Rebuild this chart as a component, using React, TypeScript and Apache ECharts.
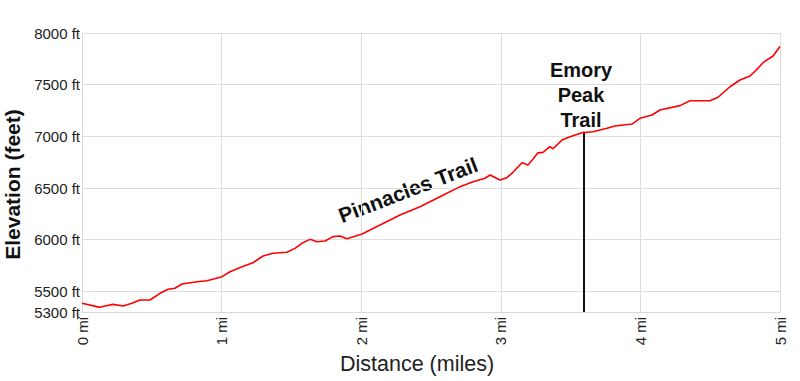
import React, { useEffect, useRef } from "react";
import * as echarts from "echarts";

const distances = [0, 0.129, 0.165, 0.222, 0.294, 0.358, 0.415, 0.487, 0.559, 0.616, 0.666, 0.716, 0.824, 0.895, 1.003, 1.06, 1.146, 1.225, 1.297, 1.368, 1.468, 1.526, 1.583, 1.633, 1.683, 1.741, 1.798, 1.848, 1.898, 2.006, 2.135, 2.278, 2.421, 2.564, 2.708, 2.801, 2.887, 2.923, 2.994, 3.044, 3.087, 3.152, 3.195, 3.231, 3.266, 3.302, 3.352, 3.374, 3.438, 3.496, 3.582, 3.66, 3.761, 3.818, 3.94, 3.997, 4.083, 4.14, 4.284, 4.355, 4.499, 4.556, 4.642, 4.713, 4.785, 4.842, 4.878, 4.95, 5.0];
const elevations = [5384, 5345, 5358, 5374, 5358, 5384, 5416, 5416, 5481, 5520, 5530, 5571, 5593, 5603, 5642, 5690, 5738, 5777, 5842, 5868, 5878, 5916, 5971, 6003, 5980, 5987, 6029, 6035, 6009, 6055, 6142, 6239, 6319, 6416, 6513, 6561, 6594, 6626, 6577, 6600, 6652, 6745, 6723, 6780, 6840, 6845, 6900, 6880, 6964, 6996, 7035, 7045, 7078, 7100, 7119, 7174, 7206, 7255, 7297, 7345, 7345, 7378, 7480, 7545, 7584, 7658, 7713, 7777, 7870];
const yTicks = [5300, 5500, 6000, 6500, 7000, 7500, 8000];
const xTicks = [0, 1, 2, 3, 4, 5];
const junctionDistance = 3.596;
const junctionElevation = 7045;
const junctionLabel = "Emory\nPeak\nTrail";
const trailLabel = "Pinnacles Trail";

export default function App() {
  const ref = useRef<HTMLDivElement>(null);
  useEffect(() => {
    document.body.style.margin = "0";
    const chart = echarts.init(ref.current!, null, { renderer: "svg" });
    const font = "Arial, 'Liberation Sans', sans-serif";
    chart.setOption({
      animation: false,
      grid: { left: 82, right: 20, top: 33, bottom: 69, containLabel: false, outerBoundsMode: "none" },
      xAxis: {
        type: "value",
        min: 0,
        max: 5,
        interval: 1,
        name: "Distance (miles)",
        nameLocation: "middle",
        nameGap: 37,
        nameTextStyle: { fontFamily: font, fontSize: 21.5, color: "#222", padding: [0, 28, 0, 0] },
        axisLine: { show: true, lineStyle: { color: "#d9d9d9" } },
        axisTick: { show: false },
        axisLabel: {
          rotate: 90,
          margin: 5,
          fontFamily: font,
          fontSize: 15,
          color: "#222",
          formatter: (v: number) => `${v} mi`,
          customValues: xTicks,
        },
        splitLine: { show: true, lineStyle: { color: "#dedede" } },
      },
      yAxis: {
        type: "value",
        min: 5300,
        max: 8000,
        name: "Elevation (feet)",
        nameLocation: "middle",
        nameGap: 52,
        nameTextStyle: { fontFamily: font, fontSize: 21, fontWeight: "bold", color: "#111", padding: [0, 24, 0, 0] },
        axisLine: { show: true, lineStyle: { color: "#d9d9d9" } },
        axisTick: { show: false, customValues: yTicks },
        axisLabel: {
          margin: 2,
          fontFamily: font,
          fontSize: 15,
          color: "#222",
          formatter: (v: number) => `${v} ft`,
          customValues: yTicks,
        },
        splitLine: { show: true, lineStyle: { color: "#dedede" } },
      },
      series: [
        {
          type: "line",
          data: distances.map((d, i) => [d, elevations[i]]),
          showSymbol: false,
          symbol: "none",
          lineStyle: { color: "#ff0000", width: 1.6 },
          z: 3,
        },
        {
          type: "line",
          data: [
            [junctionDistance, 5300],
            [junctionDistance, junctionElevation],
          ],
          showSymbol: false,
          symbol: "none",
          lineStyle: { color: "#111", width: 2 },
          markPoint: {
            symbol: "circle",
            symbolSize: 0,
            data: [
              {
                coord: [junctionDistance, junctionElevation],
                label: {
                  show: true,
                  position: "top",
                  distance: -1,
                  offset: [-3, 0],
                  formatter: junctionLabel,
                  fontFamily: font,
                  fontSize: 20,
                  fontWeight: "bold",
                  lineHeight: 25,
                  color: "#111",
                },
              },
            ],
          },
          z: 2,
        },
      ],
      graphic: [
        {
          type: "text",
          x: 408,
          y: 190,
          rotation: (21 * Math.PI) / 180,
          style: {
            text: trailLabel,
            fontFamily: font,
            fontSize: 21,
            fontWeight: "bold",
            fill: "#111",
            align: "center",
            verticalAlign: "middle",
          },
        },
      ],
    });
    return () => chart.dispose();
  }, []);
  return <div ref={ref} style={{ width: 800, height: 381 }} />;
}
